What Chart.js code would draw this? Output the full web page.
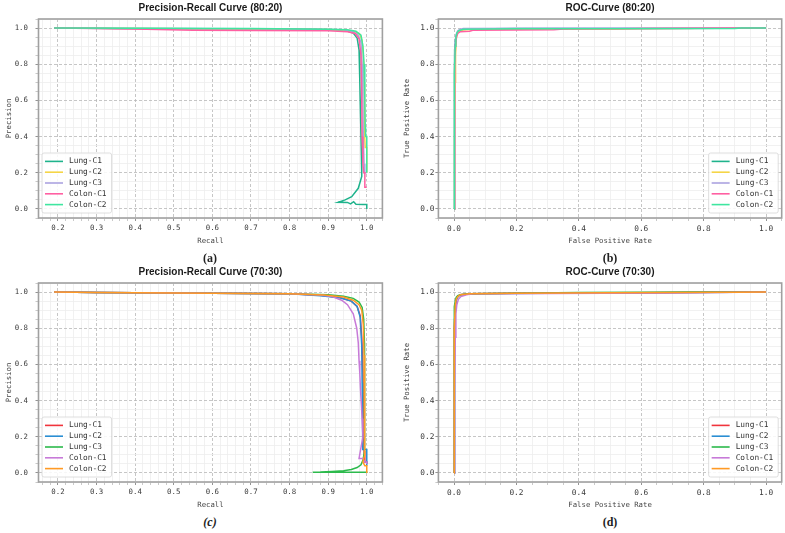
<!DOCTYPE html>
<html>
<head>
<meta charset="utf-8">
<script src="https://cdn.jsdelivr.net/npm/chart.js@4.4.1/dist/chart.umd.min.js"></script>
<style>
  body { margin: 0; width: 785px; height: 533px; background: #fff; position: relative; overflow: hidden; }
  .cell { position: absolute; height: 250px; }
  .cap { position: absolute; font-family: "Liberation Serif", serif; font-size: 12px; font-weight: bold; text-align: center; color: #222; }
</style>
</head>
<body>
<div class="cell" style="left:0;top:0;width:392px"><canvas id="prA"></canvas></div>
<div class="cell" style="left:395px;top:0;width:390px"><canvas id="rocB"></canvas></div>
<div class="cell" style="left:0;top:264px;width:392px"><canvas id="prC"></canvas></div>
<div class="cell" style="left:395px;top:264px;width:390px"><canvas id="rocD"></canvas></div>
<div class="cap" style="left:38px;top:251px;width:344px">(a)</div>
<div class="cap" style="left:438px;top:251px;width:344px">(b)</div>
<div class="cap" style="left:38px;top:515px;width:344px;font-style:italic">(c)</div>
<div class="cap" style="left:438px;top:515px;width:344px">(d)</div>
<script>
/**
 *  Series names and colours
 */
var seriesLabels = ['Lung-C1', 'Lung-C2', 'Lung-C3', 'Colon-C1', 'Colon-C2'];
var colors8020 = ['#1fb38c', '#f5d547', '#aca3e0', '#ff5fa2', '#3fe6a0'];
var colors7030 = ['#f0343c', '#2a8ed3', '#2cba4c', '#c77ad8', '#ff9a24'];

/**
 *  Tick labels
 */
var recallTicks = [0.2, 0.3, 0.4, 0.5, 0.6, 0.7, 0.8, 0.9, 1.0];
var rateTicks = [0.0, 0.2, 0.4, 0.6, 0.8, 1.0];

/**
 *  Precision-Recall 80:20 (recall, precision)
 */
var pr8020LungC1R = [0.19, 0.35, 0.6, 0.85, 0.92, 0.95, 0.965, 0.975, 0.98, 0.982, 0.984, 0.986, 0.987, 0.978, 0.961, 0.944, 0.926, 0.95, 0.958, 0.966, 0.972, 0.99, 1.0, 1.0];
var pr8020LungC1P = [1.0, 0.998, 0.996, 0.993, 0.99, 0.984, 0.972, 0.945, 0.88, 0.7, 0.5, 0.3, 0.18, 0.114, 0.068, 0.05, 0.037, 0.036, 0.028, 0.04, 0.026, 0.025, 0.025, 0.0];
var pr8020LungC2R = [0.19, 0.4, 0.7, 0.9, 0.95, 0.97, 0.982, 0.988, 0.991, 0.993, 0.994, 0.995, 0.996, 1.0, 1.0];
var pr8020LungC2P = [1.0, 0.998, 0.995, 0.992, 0.988, 0.98, 0.965, 0.93, 0.85, 0.7, 0.5, 0.4, 0.34, 0.34, 0.2];
var pr8020LungC3R = [0.19, 0.4, 0.7, 0.88, 0.94, 0.965, 0.978, 0.985, 0.988, 0.99, 0.991, 0.993, 0.995, 1.0];
var pr8020LungC3P = [1.0, 0.998, 0.996, 0.994, 0.99, 0.98, 0.96, 0.92, 0.8, 0.6, 0.4, 0.25, 0.2, 0.2];
var pr8020ColonC1R = [0.19, 0.4, 0.55, 0.7, 0.9, 0.95, 0.97, 0.98, 0.985, 0.987, 0.988, 0.99, 0.992, 0.995, 0.995, 1.0];
var pr8020ColonC1P = [1.0, 0.995, 0.988, 0.986, 0.985, 0.98, 0.97, 0.94, 0.85, 0.6, 0.4, 0.25, 0.2, 0.2, 0.12, 0.12];
var pr8020ColonC2R = [0.19, 0.4, 0.7, 0.9, 0.95, 0.972, 0.985, 0.99, 0.993, 0.995, 0.996, 0.997, 1.0, 1.0];
var pr8020ColonC2P = [1.0, 0.999, 0.997, 0.994, 0.99, 0.982, 0.96, 0.9, 0.8, 0.6, 0.45, 0.4, 0.4, 0.2];

/**
 *  ROC 80:20 (fpr, tpr)
 */
var roc8020LungC1F = [0, 0.001, 0.002, 0.003, 0.005, 0.008, 0.012, 0.02, 0.05, 0.2, 0.5, 0.8, 1.0];
var roc8020LungC1T = [0, 0.3, 0.7, 0.88, 0.94, 0.965, 0.98, 0.99, 0.995, 0.997, 0.998, 0.999, 1.0];
var roc8020LungC2F = [0, 0.002, 0.004, 0.005, 0.007, 0.01, 0.015, 0.03, 0.1, 0.52, 0.6, 1.0];
var roc8020LungC2T = [0, 0.4, 0.7, 0.85, 0.94, 0.97, 0.98, 0.99, 0.993, 0.995, 0.998, 1.0];
var roc8020LungC3F = [0, 0.001, 0.003, 0.005, 0.008, 0.012, 0.02, 0.03, 0.3, 1.0];
var roc8020LungC3T = [0, 0.5, 0.85, 0.94, 0.97, 0.985, 0.993, 0.997, 0.999, 1.0];
var roc8020ColonC1F = [0, 0.001, 0.003, 0.005, 0.008, 0.012, 0.02, 0.05, 0.06, 0.32, 0.35, 0.7, 1.0];
var roc8020ColonC1T = [0, 0.4, 0.8, 0.9, 0.95, 0.97, 0.98, 0.982, 0.988, 0.99, 0.995, 0.997, 1.0];
var roc8020ColonC2F = [0, 0.0, 0.002, 0.004, 0.006, 0.01, 0.015, 0.03, 0.2, 0.9, 0.92, 1.0];
var roc8020ColonC2T = [0, 0.3, 0.75, 0.9, 0.95, 0.975, 0.985, 0.993, 0.996, 0.998, 1.0, 1.0];

/**
 *  Precision-Recall 70:30 (recall, precision)
 */
var pr7030LungC1R = [0.19, 0.3, 0.6, 0.8, 0.88, 0.93, 0.96, 0.975, 0.983, 0.987, 0.99, 0.991, 0.992, 0.993, 0.995, 1.0, 1.0];
var pr7030LungC1P = [1.0, 0.997, 0.993, 0.99, 0.982, 0.97, 0.95, 0.92, 0.87, 0.75, 0.55, 0.4, 0.25, 0.12, 0.06, 0.06, 0.05];
var pr7030LungC2R = [0.19, 0.3, 0.6, 0.8, 0.88, 0.93, 0.96, 0.975, 0.983, 0.987, 0.988, 0.99, 0.989, 0.99, 1.0, 1.0];
var pr7030LungC2P = [1.0, 0.997, 0.993, 0.99, 0.98, 0.968, 0.95, 0.92, 0.86, 0.7, 0.5, 0.3, 0.18, 0.13, 0.13, 0.04];
var pr7030LungC3R = [0.19, 0.3, 0.6, 0.8, 0.9, 0.94, 0.965, 0.98, 0.988, 0.992, 0.994, 0.995, 0.995, 0.993, 0.99, 0.985, 0.975, 0.96, 0.94, 0.91, 0.88, 0.86, 1.0, 1.0];
var pr7030LungC3P = [1.0, 0.997, 0.993, 0.99, 0.985, 0.977, 0.965, 0.945, 0.915, 0.85, 0.72, 0.5, 0.25, 0.12, 0.07, 0.045, 0.03, 0.019, 0.012, 0.008, 0.005, 0.004, 0.004, 0.0];
var pr7030ColonC1R = [0.19, 0.3, 0.6, 0.8, 0.88, 0.91, 0.935, 0.95, 0.965, 0.974, 0.978, 0.98, 0.982, 0.984, 0.986, 0.988, 0.99, 0.985, 0.98, 0.99, 0.995, 1.0, 1.0];
var pr7030ColonC1P = [1.0, 0.997, 0.993, 0.99, 0.983, 0.975, 0.955, 0.93, 0.88, 0.8, 0.72, 0.62, 0.55, 0.45, 0.38, 0.3, 0.2, 0.14, 0.08, 0.08, 0.06, 0.06, 0.05];
var pr7030ColonC2R = [0.19, 0.3, 0.6, 0.8, 0.89, 0.94, 0.965, 0.98, 0.987, 0.991, 0.993, 0.994, 0.995, 0.995, 0.99, 0.995, 1.0, 1.0];
var pr7030ColonC2P = [1.0, 0.997, 0.993, 0.99, 0.983, 0.972, 0.955, 0.93, 0.9, 0.82, 0.65, 0.45, 0.25, 0.1, 0.06, 0.04, 0.04, 0.0];

/**
 *  ROC 70:30 (fpr, tpr)
 */
var roc7030LungC1F = [0, 0.0, 0.002, 0.004, 0.007, 0.012, 0.02, 0.05, 0.2, 0.6, 0.95, 1.0];
var roc7030LungC1T = [0, 0.33, 0.8, 0.92, 0.955, 0.975, 0.985, 0.99, 0.993, 0.996, 1.0, 1.0];
var roc7030LungC2F = [0, 0.001, 0.003, 0.005, 0.008, 0.013, 0.02, 0.06, 0.3, 0.8, 1.0];
var roc7030LungC2T = [0, 0.5, 0.85, 0.93, 0.96, 0.975, 0.985, 0.99, 0.994, 0.998, 1.0];
var roc7030LungC3F = [0, 0.0, 0.002, 0.004, 0.007, 0.012, 0.02, 0.05, 0.4, 0.8, 1.0];
var roc7030LungC3T = [0, 0.83, 0.92, 0.95, 0.97, 0.98, 0.985, 0.99, 0.997, 1.0, 1.0];
var roc7030ColonC1F = [0, 0.002, 0.004, 0.006, 0.009, 0.014, 0.022, 0.04, 0.06, 0.3, 0.67, 1.0];
var roc7030ColonC1T = [0, 0.45, 0.75, 0.88, 0.93, 0.96, 0.975, 0.985, 0.99, 0.992, 0.995, 1.0];
var roc7030ColonC2F = [0, 0.0, 0.002, 0.004, 0.007, 0.012, 0.02, 0.05, 0.2, 0.5, 0.9, 1.0];
var roc7030ColonC2T = [0, 0.2, 0.8, 0.93, 0.96, 0.975, 0.985, 0.99, 0.993, 0.996, 0.999, 1.0];

var MONO = '"DejaVu Sans Mono", monospace';

/**
 *  Helpers
 */
function toPoints(xs, ys) {
    return xs.map(function (x, i) { return { x: x, y: ys[i] }; });
}

function isMajor(v, step) {
    return Math.abs(v / step - Math.round(v / step)) < 1e-6;
}

function stepTicks(min, max, step) {
    var out = [];
    for (var k = Math.ceil(min / step - 1e-9); k * step <= max + 1e-9; k++) {
        out.push({ value: +(k * step).toFixed(4) });
    }
    return out;
}

function buildSets(pairs, colors) {
    return pairs.map(function (p, i) {
        return {
            label: seriesLabels[i],
            data: toPoints(p[0], p[1]),
            borderColor: colors[i],
            backgroundColor: colors[i],
            borderWidth: 1.5,
            pointRadius: 0,
            showLine: true,
            fill: false,
            order: pairs.length - i
        };
    });
}

/**
 *  Legend drawn inside the plot area
 */
var insideLegend = {
    id: 'insideLegend',
    afterDatasetsDraw: function (chart, args, opts) {
        var ctx = chart.ctx, area = chart.chartArea;
        var sets = chart.data.datasets;
        ctx.save();
        ctx.font = opts.fontSize + 'px ' + MONO;
        var textW = Math.max.apply(null, sets.map(function (d) { return ctx.measureText(d.label).width; }));
        var rowH = 10.8, lineLen = 18, pad = 3;
        var w = pad + lineLen + 6 + textW + 5;
        var h = pad * 2 + rowH * sets.length;
        var x = opts.corner === 'right' ? area.right - 3.5 - w : area.left + 3.5;
        var y = area.bottom - 5 - h;
        ctx.fillStyle = 'rgba(255,255,255,0.85)';
        ctx.strokeStyle = '#d6d6d6';
        ctx.lineWidth = 0.8;
        ctx.beginPath();
        ctx.roundRect(x, y, w, h, 2);
        ctx.fill();
        ctx.stroke();
        ctx.textBaseline = 'middle';
        sets.forEach(function (d, i) {
            var cy = y + pad + rowH * (i + 0.5);
            ctx.strokeStyle = d.borderColor;
            ctx.lineWidth = 1.6;
            ctx.beginPath();
            ctx.moveTo(x + pad, cy);
            ctx.lineTo(x + pad + lineLen, cy);
            ctx.stroke();
            ctx.fillStyle = '#333';
            ctx.fillText(d.label, x + pad + lineLen + 6, cy);
        });
        ctx.restore();
    }
};

/**
 *  Frame round the plot area
 */
var plotFrame = {
    id: 'plotFrame',
    afterDraw: function (chart) {
        var ctx = chart.ctx, a = chart.chartArea;
        ctx.save();
        ctx.strokeStyle = '#a0a0a0';
        ctx.lineWidth = 1.6;
        ctx.strokeRect(a.left, a.top, a.right - a.left, a.bottom - a.top);
        ctx.restore();
    }
};

function axis(min, max, major, minor, title, horizontal, p) {
    return {
        type: 'linear',
        min: min,
        max: max,
        afterBuildTicks: function (s) { s.ticks = stepTicks(min, max, minor); },
        afterFit: function (s) {
            if (horizontal) { s.height = 32; } else { s.width = p.yWidth; }
        },
        ticks: {
            autoSkip: false,
            maxRotation: 0,
            padding: horizontal ? 3 : p.yTickPad,
            color: '#3a3a3a',
            font: { family: MONO, size: p.tickSize },
            callback: function (v) { return isMajor(v, major) ? v.toFixed(1) : ''; }
        },
        grid: {
            lineWidth: 0.8,
            tickLength: 3,
            color: function (c) { return c.tick && isMajor(c.tick.value, major) ? '#b8b8b8' : '#ededed'; },
            tickColor: function (c) { return c.tick && isMajor(c.tick.value, major) ? '#777' : '#bbb'; }
        },
        border: {
            display: false,
            dash: function (c) { return c.tick && isMajor(c.tick.value, major) ? [3, 2] : []; }
        },
        title: {
            display: true,
            text: title,
            color: '#444',
            font: { family: MONO, size: 7.3 },
            padding: horizontal ? { top: 0, bottom: 4.6 } : { top: p.yTitlePad, bottom: 0 }
        }
    };
}

function makePanel(id, p) {
    return new Chart(document.getElementById(id), {
        type: 'scatter',
        data: { datasets: p.datasets },
        options: {
            responsive: true,
            maintainAspectRatio: false,
            animation: false,
            layout: { padding: { left: 0, right: p.padRight, top: 0, bottom: 0 } },
            scales: {
                x: axis(p.xMin, p.xMax, p.xMajor, p.xMinor, p.xTitle, true, p),
                y: axis(-0.05, 1.05, 0.2, 0.05, p.yTitle, false, p)
            },
            plugins: {
                legend: { display: false },
                tooltip: { enabled: false },
                title: {
                    display: true,
                    text: p.title,
                    fullSize: false,
                    color: '#1a1a1a',
                    font: { family: '"Liberation Sans", Arial, sans-serif', size: 10, weight: 'bold' },
                    padding: { top: 2, bottom: 5 }
                },
                insideLegend: { corner: p.corner, fontSize: 7.8 }
            }
        },
        plugins: [insideLegend, plotFrame]
    });
}

var leftPanel = { padRight: 9.6, yWidth: 38.5, yTitlePad: 4.6, yTickPad: 7.5, tickSize: 7.4 };
var rightPanel = { padRight: 3.3, yWidth: 43.4, yTitlePad: 7.6, yTickPad: 1, tickSize: 7.8 };

makePanel('prA', Object.assign({}, leftPanel, {
    title: 'Precision-Recall Curve (80:20)', xTitle: 'Recall', yTitle: 'Precision',
    xMin: 0.1495, xMax: 1.0405, xMajor: 0.1, xMinor: 0.02, corner: 'left',
    datasets: buildSets([
        [pr8020LungC1R, pr8020LungC1P], [pr8020LungC2R, pr8020LungC2P], [pr8020LungC3R, pr8020LungC3P],
        [pr8020ColonC1R, pr8020ColonC1P], [pr8020ColonC2R, pr8020ColonC2P]
    ], colors8020)
}));

makePanel('rocB', Object.assign({}, rightPanel, {
    title: 'ROC-Curve (80:20)', xTitle: 'False Positive Rate', yTitle: 'True Positive Rate',
    xMin: -0.05, xMax: 1.05, xMajor: 0.2, xMinor: 0.05, corner: 'right',
    datasets: buildSets([
        [roc8020LungC1F, roc8020LungC1T], [roc8020LungC2F, roc8020LungC2T], [roc8020LungC3F, roc8020LungC3T],
        [roc8020ColonC1F, roc8020ColonC1T], [roc8020ColonC2F, roc8020ColonC2T]
    ], colors8020)
}));

makePanel('prC', Object.assign({}, leftPanel, {
    title: 'Precision-Recall Curve (70:30)', xTitle: 'Recall', yTitle: 'Precision',
    xMin: 0.1495, xMax: 1.0405, xMajor: 0.1, xMinor: 0.02, corner: 'left',
    datasets: buildSets([
        [pr7030LungC1R, pr7030LungC1P], [pr7030LungC2R, pr7030LungC2P], [pr7030LungC3R, pr7030LungC3P],
        [pr7030ColonC1R, pr7030ColonC1P], [pr7030ColonC2R, pr7030ColonC2P]
    ], colors7030)
}));

makePanel('rocD', Object.assign({}, rightPanel, {
    title: 'ROC-Curve (70:30)', xTitle: 'False Positive Rate', yTitle: 'True Positive Rate',
    xMin: -0.05, xMax: 1.05, xMajor: 0.2, xMinor: 0.05, corner: 'right',
    datasets: buildSets([
        [roc7030LungC1F, roc7030LungC1T], [roc7030LungC2F, roc7030LungC2T], [roc7030LungC3F, roc7030LungC3T],
        [roc7030ColonC1F, roc7030ColonC1T], [roc7030ColonC2F, roc7030ColonC2T]
    ], colors7030)
}));
</script>
</body>
</html>
